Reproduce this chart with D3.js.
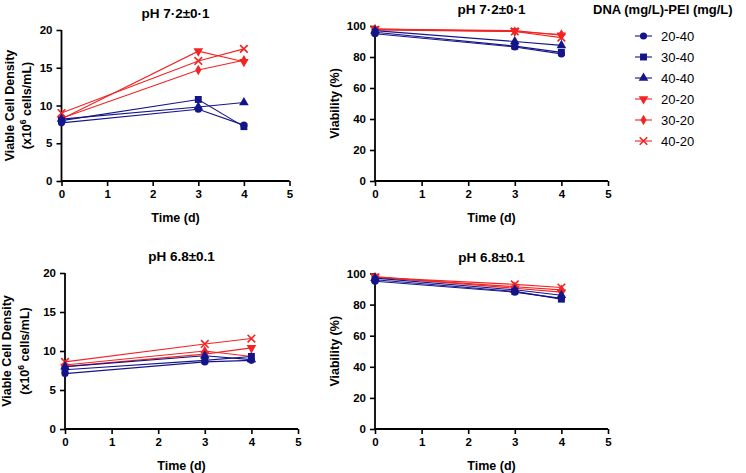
<!DOCTYPE html>
<html>
<head>
<meta charset="utf-8">
<script src="https://cdn.jsdelivr.net/npm/d3@7"></script>
<style>
  html, body { margin: 0; padding: 0; background: #fff; }
  svg { display: block; font-family: "Liberation Sans", Arial, sans-serif; }
</style>
</head>
<body>
<svg id="chart" width="746" height="473"></svg>
<script>
// ---------- data ----------
const times = [0, 3, 4];
const seriesNames = ["20-40", "30-40", "40-40", "20-20", "30-20", "40-20"];
const seriesColors = ["#15158a", "#15158a", "#15158a", "#f22424", "#f22424", "#f22424"];
const seriesSymbols = ["circle", "square", "triangle", "triangleDown", "diamond", "times"];

// Viable cell density (x10^6 cells/mL), pH 7.2
const vcdPH72 = [
  [7.7, 9.5, 7.4],
  [8.0, 10.8, 7.2],
  [8.2, 9.8, 10.4],
  [8.2, 17.2, 15.8],
  [8.3, 14.7, 16.0],
  [9.0, 15.9, 17.5]
];
// Viability (%), pH 7.2
const viaPH72 = [
  [95, 86.5, 82],
  [96, 87, 83],
  [97, 90, 87.5],
  [98, 97, 94],
  [98, 96.5, 94.5],
  [97.5, 96.5, 92.5]
];
// Viable cell density, pH 6.8
const vcdPH68 = [
  [7.1, 8.6, 8.8],
  [7.6, 8.8, 9.3],
  [8.0, 9.4, 8.9],
  [8.0, 9.6, 10.4],
  [8.2, 10.0, 9.3],
  [8.6, 10.9, 11.6]
];
// Viability, pH 6.8
const viaPH68 = [
  [95, 88, 84],
  [96, 88.5, 83.5],
  [97, 89.5, 86],
  [98, 90.5, 88],
  [97.5, 91.5, 89.5],
  [97.5, 93, 91]
];

const xTicks = [0, 1, 2, 3, 4, 5];
const vcdTicks = [0, 5, 10, 15, 20];
const viaTicks = [0, 20, 40, 60, 80, 100];

const titleTop = "pH 7·2±0·1";
const titleBottom = "pH 6.8±0.1";
const legendTitle = "DNA (mg/L)-PEI (mg/L)";

// ---------- drawing ----------
const svg = d3.select("#chart");

function symbolPath(kind) {
  if (kind === "circle") return d3.symbol(d3.symbolCircle, 40)();
  if (kind === "square") return d3.symbol(d3.symbolSquare, 48)();
  if (kind === "triangle") return d3.symbol(d3.symbolTriangle, 40)();
  if (kind === "triangleDown") return d3.symbol(d3.symbolTriangle, 40)();
  if (kind === "diamond") return d3.symbol(d3.symbolDiamond, 32)();
  if (kind === "times") return "M-3.8,-3.8L3.8,3.8M-3.8,3.8L3.8,-3.8";
  return d3.symbol(d3.symbolCircle, 40)();
}

function drawMarker(g, kind, color, x, y) {
  const p = g.append("path")
    .attr("d", symbolPath(kind))
    .attr("transform", `translate(${x},${y})` + (kind === "triangleDown" ? " rotate(180)" : ""));
  if (kind === "times") {
    p.attr("fill", "none").attr("stroke", color).attr("stroke-width", 1.6);
  } else {
    p.attr("fill", color).attr("stroke", "none");
  }
}

function panel(opts) {
  const { x0, x5, yBottom, yTop, yMax, yTicks, data, title, ylabel1, ylabel2 } = opts;
  const x = d3.scaleLinear().domain([0, 5]).range([x0, x5]);
  const y = d3.scaleLinear().domain([0, yMax]).range([yBottom, yTop]);
  const g = svg.append("g");

  // axes
  const xAxis = d3.axisBottom(x).tickValues(xTicks).tickSize(5).tickPadding(4).tickFormat(d3.format("d"));
  const yAxis = d3.axisLeft(y).tickValues(yTicks).tickSize(5).tickPadding(4).tickFormat(d3.format("d"));
  const gx = g.append("g").attr("transform", `translate(0,${yBottom})`).call(xAxis);
  const gy = g.append("g").attr("transform", `translate(${x0},0)`).call(yAxis);
  [gx, gy].forEach(a => {
    a.select(".domain").attr("stroke", "#000").attr("stroke-width", 1.8);
    a.selectAll(".tick line").attr("stroke", "#000").attr("stroke-width", 1.6);
    a.selectAll(".tick text").attr("fill", "#000").attr("font-size", 11.5).attr("font-weight", "bold")
      .attr("font-family", "'Liberation Sans', Arial, sans-serif");
  });
  gx.select(".domain").attr("d", `M${x0},0H${x5}`);
  gy.select(".domain").attr("d", `M0,${yBottom}V${yTop}`);

  // title
  const cx = (x0 + x5) / 2;
  g.append("text").attr("x", cx).attr("y", yTop - 12).attr("text-anchor", "middle")
    .attr("font-size", 13.5).attr("font-weight", "bold").text(title);

  // x label
  g.append("text").attr("x", cx).attr("y", yBottom + 41).attr("text-anchor", "middle")
    .attr("font-size", 12.5).attr("font-weight", "bold").text("Time (d)");

  // y label
  const cy = (yTop + yBottom) / 2;
  if (ylabel2) {
    g.append("text").attr("transform", `translate(${opts.ylx1},${cy}) rotate(-90)`)
      .attr("text-anchor", "middle").attr("font-size", 12.5).attr("font-weight", "bold").text(ylabel1);
    const t2 = g.append("text").attr("transform", `translate(${opts.ylx2},${cy}) rotate(-90)`)
      .attr("text-anchor", "middle").attr("font-size", 12.5).attr("font-weight", "bold");
    t2.append("tspan").text("(x10");
    t2.append("tspan").attr("dy", -5).attr("font-size", 8.5).text("6");
    t2.append("tspan").attr("dy", 5).text(" cells/mL)");
  } else {
    g.append("text").attr("transform", `translate(${opts.ylx1},${cy}) rotate(-90)`)
      .attr("text-anchor", "middle").attr("font-size", 12.5).attr("font-weight", "bold").text(ylabel1);
  }

  // series: draw red first, blue on top (first series on top)
  const line = d3.line().x((d, i) => x(times[i])).y(d => y(d));
  const order = d3.range(data.length).reverse();
  order.forEach(si => {
    g.append("path").datum(data[si]).attr("d", line)
      .attr("fill", "none").attr("stroke", seriesColors[si]).attr("stroke-width", 1.1);
  });
  order.forEach(si => {
    data[si].forEach((v, i) => drawMarker(g, seriesSymbols[si], seriesColors[si], x(times[i]), y(v)));
  });
}

panel({ x0: 61.5, x5: 289.5, yBottom: 181, yTop: 30, yMax: 20, yTicks: vcdTicks, data: vcdPH72,
  title: titleTop, ylabel1: "Viable Cell Density", ylabel2: true, ylx1: 14, ylx2: 31 });
panel({ x0: 375, x5: 608, yBottom: 181, yTop: 26, yMax: 100, yTicks: viaTicks, data: viaPH72,
  title: titleTop, ylabel1: "Viability (%)", ylabel2: false, ylx1: 339 });
panel({ x0: 65, x5: 298, yBottom: 429, yTop: 273, yMax: 20, yTicks: vcdTicks, data: vcdPH68,
  title: titleBottom, ylabel1: "Viable Cell Density", ylabel2: true, ylx1: 11, ylx2: 29 });
panel({ x0: 375, x5: 608, yBottom: 429, yTop: 273.5, yMax: 100, yTicks: viaTicks, data: viaPH68,
  title: titleBottom, ylabel1: "Viability (%)", ylabel2: false, ylx1: 339 });

// legend
const lg = svg.append("g");
lg.append("text").attr("x", 593).attr("y", 14).attr("font-size", 13).attr("font-weight", "bold").text(legendTitle);
seriesNames.forEach((name, i) => {
  const yy = 36 + i * 21;
  lg.append("line").attr("x1", 635).attr("x2", 652).attr("y1", yy).attr("y2", yy)
    .attr("stroke", seriesColors[i]).attr("stroke-width", 1.1);
  drawMarker(lg, seriesSymbols[i], seriesColors[i], 643.5, yy);
  lg.append("text").attr("x", 661).attr("y", yy + 4.5).attr("font-size", 13).text(name);
});
</script>
</body>
</html>
